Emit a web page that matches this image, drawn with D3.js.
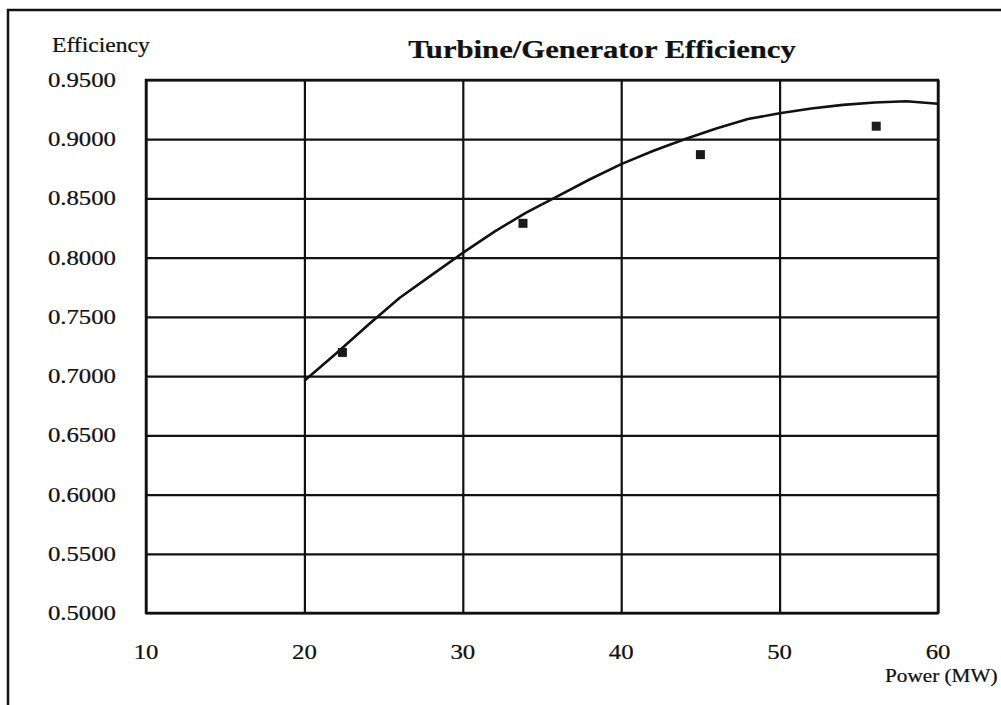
<!DOCTYPE html>
<html>
<head>
<meta charset="utf-8">
<script src="https://cdn.jsdelivr.net/npm/d3@7/dist/d3.min.js"></script>
<style>
  html, body { margin: 0; padding: 0; background: #fff; }
  svg { display: block; }
  text { font-family: "Liberation Serif", "Times New Roman", serif; fill: #111; stroke: #111; stroke-width: 0.25; }
</style>
</head>
<body>
<svg id="chart" width="1001" height="705"></svg>
<script>
// Fitted efficiency curve (power in MW, efficiency as a fraction)
const curvePower = [20, 22, 24, 26, 28, 30, 32, 34, 36, 38, 40, 42, 44, 46, 48, 50, 52, 54, 56, 58, 60];
const curveEff   = [0.696, 0.719, 0.743, 0.766, 0.785, 0.804, 0.822, 0.838, 0.852, 0.866, 0.879, 0.890, 0.900, 0.909, 0.917, 0.922, 0.926, 0.929, 0.931, 0.932, 0.930];

// Measured test points
const testPower = [22.4, 33.8, 45.0, 56.1];
const testEff   = [0.720, 0.829, 0.887, 0.911];

// Axis ticks
const xTicks = [10, 20, 30, 40, 50, 60];
const yTicks = [0.50, 0.55, 0.60, 0.65, 0.70, 0.75, 0.80, 0.85, 0.90, 0.95];

const titleText = "Turbine/Generator Efficiency";
const yAxisTitle = "Efficiency";
const xAxisTitle = "Power (MW)";

const svg = d3.select("#chart");
const plot = { left: 146, right: 938, top: 80, bottom: 613 };
const stretch = 1.18;   // serif text is set slightly wide

const x = d3.scaleLinear().domain([10, 60]).range([plot.left, plot.right]);
const y = d3.scaleLinear().domain([0.5, 0.95]).range([plot.bottom, plot.top]);

// outer frame (runs off the right and bottom of the page)
svg.append("path")
  .attr("d", "M8,720 L8,10 L1020,10")
  .attr("fill", "none").attr("stroke", "#111").attr("stroke-width", 2.5);

// horizontal gridlines
svg.append("g")
  .attr("transform", `translate(${plot.left},0)`)
  .call(d3.axisLeft(y).tickValues(yTicks).tickSize(-(plot.right - plot.left)).tickFormat(""))
  .call(g => g.select(".domain").remove())
  .call(g => g.selectAll("line").attr("stroke", "#111").attr("stroke-width", 2.2));

// vertical gridlines
svg.append("g")
  .attr("transform", `translate(0,${plot.bottom})`)
  .call(d3.axisBottom(x).tickValues(xTicks).tickSize(-(plot.bottom - plot.top)).tickFormat(""))
  .call(g => g.select(".domain").remove())
  .call(g => g.selectAll("line").attr("stroke", "#111").attr("stroke-width", 2.2));

// plot border
svg.append("rect")
  .attr("x", plot.left).attr("y", plot.top)
  .attr("width", plot.right - plot.left).attr("height", plot.bottom - plot.top)
  .attr("fill", "none").attr("stroke", "#111").attr("stroke-width", 2.5);

function label(px, py, str, size, anchor, weight) {
  svg.append("text")
    .attr("transform", `translate(${px},${py}) scale(${stretch},1)`)
    .attr("text-anchor", anchor || "start")
    .attr("font-size", size)
    .attr("font-weight", weight || "normal")
    .text(str);
}

// tick labels
const fmtY = d3.format(".4f");
yTicks.forEach(v => label(116, y(v) + 7, fmtY(v), 21, "end"));
xTicks.forEach(v => label(x(v), 659, String(v), 21, "middle"));

// titles
label(602, 58, titleText, 26, "middle", "bold");
label(52, 52, yAxisTitle, 20, "start");
label(885, 682, xAxisTitle, 18, "start");

// fitted curve
const curve = curvePower.map((p, i) => [p, curveEff[i]]);
svg.append("path")
  .datum(curve)
  .attr("fill", "none")
  .attr("stroke", "#111")
  .attr("stroke-width", 2.6)
  .attr("stroke-linejoin", "round")
  .attr("d", d3.line().x(d => x(d[0])).y(d => y(d[1])));

// test point markers
const pts = testPower.map((p, i) => [p, testEff[i]]);
const m = 9;
svg.append("g").selectAll("rect")
  .data(pts).join("rect")
  .attr("x", d => x(d[0]) - m / 2)
  .attr("y", d => y(d[1]) - m / 2)
  .attr("width", m).attr("height", m)
  .attr("fill", "#1a1a1a");
</script>
</body>
</html>
